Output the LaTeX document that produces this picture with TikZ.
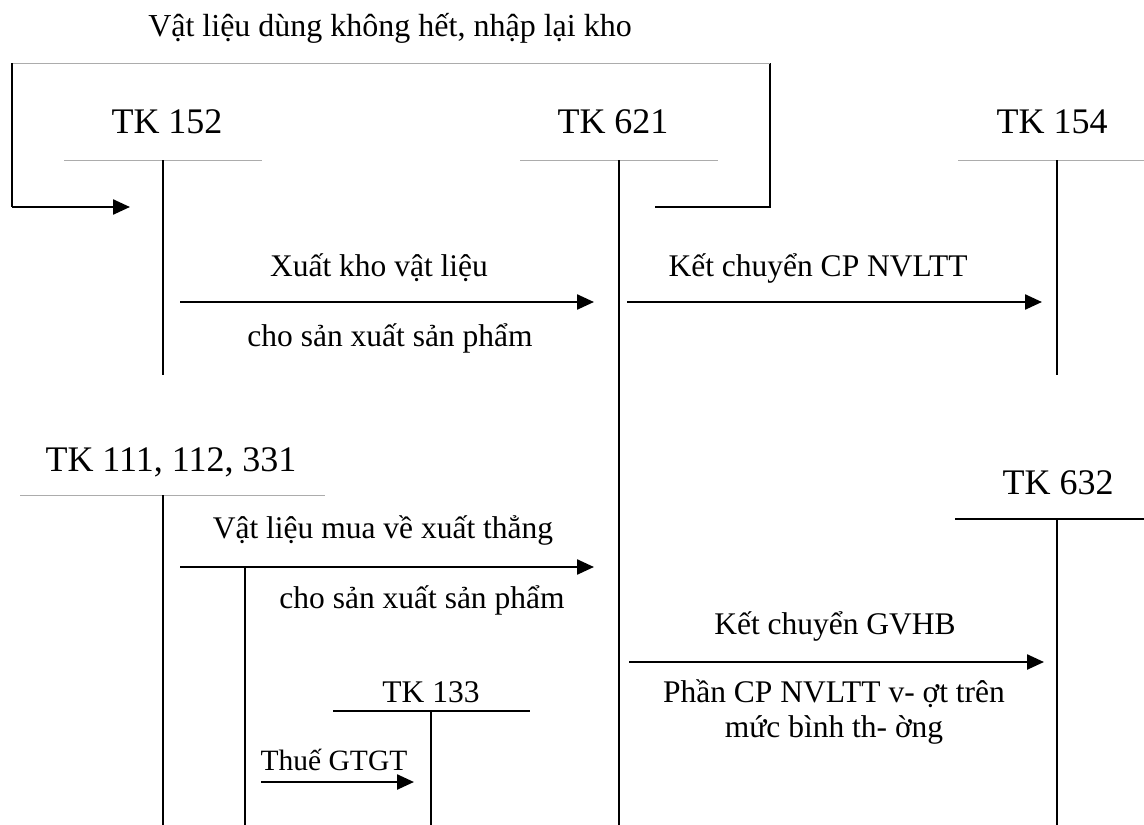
\documentclass[tikz,border=0pt]{standalone}
\usepackage{fontspec}
\setmainfont{Liberation Serif}
\usetikzlibrary{arrows.meta}
\begin{document}
\begin{tikzpicture}[x=1pt,y=-1pt,
  acct/.style={font=\fontsize{36}{40}\selectfont},
  lbl/.style={font=\fontsize{31.5}{35}\selectfont},
  toplbl/.style={font=\fontsize{32}{36}\selectfont},
  small/.style={font=\fontsize{29.5}{33}\selectfont},
  axis/.style={line width=2.4pt},
  head/.style={line width=1pt,gray!65},
  headdark/.style={line width=2.4pt},
  flow/.style={line width=2.4pt,-{Triangle[length=17pt,width=15pt]}}]
\useasboundingbox (0,0) rectangle (1144,825);

% account titles
\node[acct] (t152) at (167,122) {TK 152};
\node[acct] (t621) at (613,122) {TK 621};
\node[acct] (t154) at (1052,122) {TK 154};
\node[acct] (t111) at (171,462) {TK 111, 112, 331};
\node[acct] (t632) at (1058,483) {TK 632};
\node[lbl]  (t133) at (431,692) {TK 133};

% T-account rulings
\draw[head] (64,160) -- (262,160);
\draw[axis] (163,160) -- (163,375);
\draw[head] (520,160) -- (718,160);
\draw[axis] (619,160) -- (619,825);
\draw[head] (958,160) -- (1144,160);
\draw[axis] (1057,160) -- (1057,375);
\draw[head] (20,495) -- (325,495);
\draw[axis] (163,495) -- (163,825);
\draw[headdark] (955,519) -- (1144,519);
\draw[axis] (1057,519) -- (1057,825);
\draw[headdark] (333,711) -- (530,711);
\draw[axis] (431,711) -- (431,825);

% return of unused material
\node[toplbl] (ret) at (390,28) {Vật liệu dùng không hết, nhập lại kho};
\coordinate (r0) at (655,207);
\coordinate (r1) at (770,207);
\coordinate (r2) at (770,63);
\coordinate (r3) at (12,63);
\coordinate (r4) at (12,207);
\coordinate (r5) at (130,207);
\draw[axis] (r0) -- (r1) -- (r2);
\draw[head] (r2) -- (r3);
\draw[axis] (r3) -- (r4);
\draw[flow] (r4) -- (r5);

% 152 -> 621
\coordinate (a1s) at (180,302);
\coordinate (a1e) at (594,302);
\draw[flow] (a1s) -- (a1e);
\node[lbl] (x1) at (379,268) {Xuất kho vật liệu};
\node[lbl] (x2) at (390,338) {cho sản xuất sản phẩm};

% 621 -> 154
\coordinate (a2s) at (627,302);
\coordinate (a2e) at (1042,302);
\draw[flow] (a2s) -- (a2e);
\node[lbl] (k1) at (818,268) {Kết chuyển CP NVLTT};

% 111 -> 621
\coordinate (a3s) at (180,567);
\coordinate (a3e) at (594,567);
\coordinate (a3b) at (245,567);
\coordinate (a3d) at (245,825);
\draw[flow] (a3s) -- (a3e);
\draw[axis] (a3b) -- (a3d);
\node[lbl] (m1) at (383,530) {Vật liệu mua về xuất thẳng};
\node[lbl] (m2) at (422,600) {cho sản xuất sản phẩm};

% 621 -> 632
\coordinate (a4s) at (629,662);
\coordinate (a4e) at (1044,662);
\draw[flow] (a4s) -- (a4e);
\node[lbl] (g1) at (835,626) {Kết chuyển GVHB};
\node[lbl,align=center] (g2) at (834,712) {Phần CP NVLTT v- ợt trên\\mức bình th- ờng};

% VAT -> 133
\coordinate (a5s) at (261,782);
\coordinate (a5e) at (414,782);
\draw[flow] (a5s) -- (a5e);
\node[small] (vat) at (334,760) {Thuế GTGT};
\end{tikzpicture}
\end{document}
